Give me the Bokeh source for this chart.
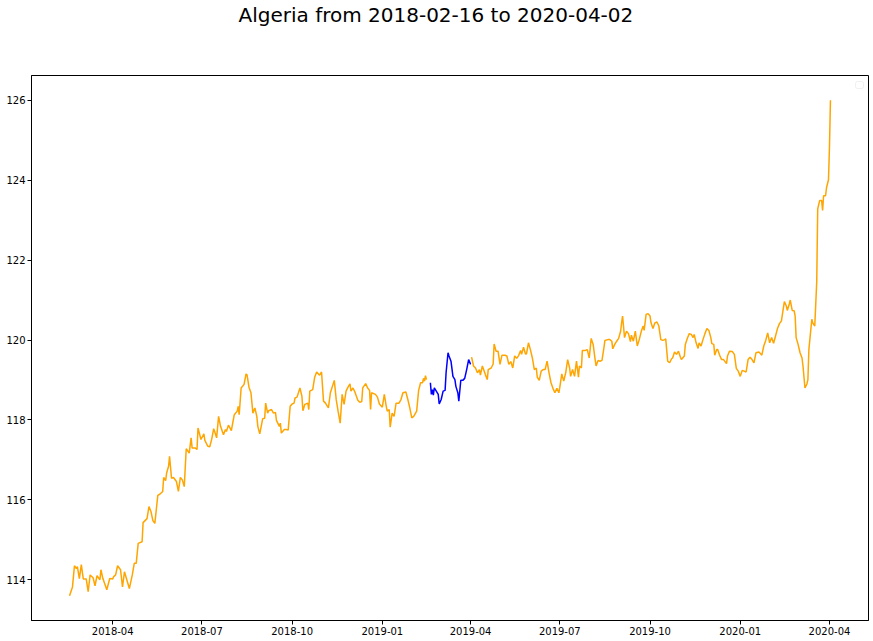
import pandas as pd
from bokeh.plotting import figure
from bokeh.models import Range1d, FixedTicker, DatetimeTickFormatter, BoxAnnotation, Title
from bokeh.embed import file_html
from bokeh.resources import INLINE

country = "Algeria"
start_date = "2018-02-16"
end_date = "2020-04-02"

before_days = [0, 3, 5, 7, 8, 10, 12, 14, 17, 19,
               21, 24, 26, 28, 31, 32, 34, 38, 41, 44,
               45, 47, 49, 52, 54, 56, 61, 64, 66, 68,
               70, 74, 75, 79, 81, 83, 85, 87, 90, 92,
               95, 96, 98, 99, 101, 102, 104, 106, 109, 111,
               113, 115, 117, 119, 122, 124, 125, 128, 130, 131,
               134, 137, 138, 141, 143, 145, 147, 148, 150, 152,
               154, 157, 159, 160, 162, 164, 165, 168, 171, 172,
               173, 175, 178, 180, 181, 183, 185, 187, 189, 191,
               192, 194, 197, 199, 200, 202, 203, 206, 208, 210,
               211, 214, 215, 216, 219, 221, 223, 225, 227, 229,
               230, 232, 235, 237, 238, 240, 243, 244, 245, 248,
               250, 252, 255, 257, 259, 261, 264, 266, 270, 272,
               274, 276, 278, 280, 282, 284, 286, 287, 289, 291,
               294, 296, 298, 299, 302, 304, 306, 307, 308, 312,
               314, 316, 319, 321, 323, 324, 326, 327, 329, 331,
               333, 336, 338, 340, 343, 345, 347, 349, 351, 354,
               356, 358, 360, 361, 362, 363, 364]
before_vals = [113.60, 113.82, 114.35, 114.28, 114.33, 114.03, 114.38, 114.02, 114.02, 113.70,
               114.12, 114.05, 113.85, 114.10, 114.00, 114.25, 114.03, 113.75, 114.03, 114.02,
               114.08, 114.12, 114.35, 114.25, 113.82, 114.20, 113.78, 114.12, 114.41, 114.41,
               114.91, 114.95, 115.43, 115.53, 115.83, 115.71, 115.48, 115.41, 116.11, 116.14,
               116.21, 116.56, 116.48, 116.67, 116.84, 117.09, 116.54, 116.56, 116.46, 116.21,
               116.56, 116.50, 116.33, 117.28, 117.17, 117.55, 117.30, 117.30, 117.26, 117.80,
               117.51, 117.65, 117.49, 117.34, 117.33, 117.52, 117.78, 117.71, 117.55, 118.09,
               117.84, 117.63, 117.76, 117.71, 117.87, 117.78, 117.73, 118.13, 118.22, 118.34,
               118.13, 118.80, 118.89, 119.15, 119.13, 118.82, 118.68, 118.17, 118.30, 118.09,
               117.84, 117.65, 118.03, 118.04, 118.42, 118.17, 118.23, 118.26, 118.17, 118.19,
               117.99, 117.84, 117.92, 117.67, 117.76, 117.76, 117.75, 118.34, 118.40, 118.42,
               118.55, 118.57, 118.80, 118.59, 118.23, 118.39, 118.42, 118.26, 118.72, 118.76,
               119.07, 119.20, 119.12, 119.20, 118.47, 118.42, 118.30, 118.68, 118.99, 118.50,
               118.20, 117.92, 118.64, 118.39, 118.72, 118.82, 118.90, 118.72, 118.80, 118.70,
               118.49, 118.44, 118.46, 118.80, 118.91, 118.80, 118.74, 118.26, 118.68, 118.64,
               118.57, 118.40, 118.32, 118.64, 118.34, 118.22, 118.26, 117.82, 118.17, 118.09,
               118.42, 118.42, 118.51, 118.68, 118.70, 118.51, 118.30, 118.05, 118.09, 118.22,
               118.74, 118.93, 118.93, 119.04, 118.97, 119.11, 119.01]

window_days = [368, 369, 370, 371, 372, 374, 376, 377, 379, 381,
               383, 384, 386, 387, 389, 391, 393, 394, 396, 397,
               399, 401, 403, 405, 407, 409]
window_vals = [118.93, 118.64, 118.76, 118.62, 118.80, 118.72, 118.64, 118.40, 118.51, 118.72,
               118.74, 119.18, 119.68, 119.60, 119.47, 119.09, 119.01, 118.84, 118.68, 118.47,
               118.99, 118.99, 119.04, 119.26, 119.51, 119.39]

after_days = [410, 412, 414, 416, 418, 419, 421, 424, 426, 427,
              430, 432, 433, 435, 437, 439, 441, 444, 446, 448,
              450, 452, 454, 456, 458, 460, 461, 463, 465, 466,
              468, 470, 472, 474, 476, 477, 479, 481, 483, 485,
              487, 489, 491, 493, 495, 497, 499, 500, 502, 504,
              506, 508, 510, 511, 513, 515, 517, 519, 520, 522,
              523, 526, 528, 530, 532, 534, 536, 537, 539, 541,
              543, 545, 546, 549, 551, 553, 554, 556, 558, 560,
              562, 563, 564, 566, 568, 570, 572, 573, 575, 577,
              579, 581, 583, 585, 586, 588, 590, 592, 593, 595,
              597, 599, 601, 603, 605, 607, 608, 610, 612, 614,
              615, 617, 619, 621, 623, 624, 627, 628, 630, 632,
              634, 636, 637, 639, 641, 642, 644, 646, 648, 650,
              652, 654, 655, 657, 658, 660, 661, 663, 665, 667,
              670, 671, 673, 676, 678, 680, 682, 684, 686, 688,
              690, 692, 694, 696, 698, 700, 703, 705, 706, 708,
              710, 712, 714, 716, 718, 720, 722, 724, 726, 727,
              729, 731, 732, 734, 735, 737, 739, 740, 741, 743,
              745, 747, 748, 750, 752, 753, 754, 757, 758, 760,
              762, 763, 765, 767, 768, 769, 771, 772, 774, 775, 776]
after_vals = [119.57, 119.35, 119.30, 119.18, 119.26, 119.12, 119.35, 119.14, 119.01, 119.26,
              119.30, 119.40, 119.90, 119.72, 119.72, 119.39, 119.62, 119.62, 119.60, 119.39,
              119.46, 119.30, 119.60, 119.54, 119.61, 119.74, 119.64, 119.82, 119.65, 119.65,
              119.93, 119.76, 119.55, 119.26, 119.30, 119.07, 118.99, 119.22, 119.26, 119.26,
              119.47, 119.18, 118.93, 118.79, 118.68, 118.79, 118.68, 118.82, 119.15, 118.97,
              119.18, 119.51, 119.30, 119.09, 119.26, 119.09, 119.47, 119.07, 119.35, 119.30,
              119.74, 119.74, 119.76, 119.55, 120.04, 119.89, 119.51, 119.35, 119.49, 119.47,
              119.49, 119.81, 119.99, 120.01, 120.01, 119.97, 119.78, 119.89, 119.97, 120.04,
              120.22, 120.43, 120.60, 120.06, 120.22, 120.16, 119.96, 120.12, 119.97, 120.22,
              119.85, 120.01, 120.21, 120.35, 120.24, 120.64, 120.66, 120.60, 120.43, 120.29,
              120.43, 120.45, 120.35, 120.01, 119.99, 120.01, 120.03, 119.47, 119.43, 119.53,
              119.55, 119.70, 119.64, 119.72, 119.57, 119.51, 119.60, 119.89, 120.04, 120.16,
              120.14, 120.06, 120.14, 119.93, 119.79, 119.93, 119.85, 120.01, 120.16, 120.29,
              120.24, 120.06, 119.91, 119.89, 119.62, 119.76, 119.76, 119.62, 119.51, 119.51,
              119.41, 119.60, 119.72, 119.71, 119.64, 119.29, 119.22, 119.09, 119.24, 119.22,
              119.20, 119.51, 119.57, 119.51, 119.43, 119.68, 119.70, 119.65, 119.62, 119.85,
              119.99, 120.18, 119.93, 120.06, 119.92, 120.10, 120.29, 120.41, 120.48, 120.64,
              120.96, 120.85, 120.74, 120.90, 121.00, 120.74, 120.73, 120.60, 120.06, 119.89,
              119.68, 119.55, 119.35, 118.80, 118.90, 119.01, 119.76, 120.52, 120.43, 120.35,
              121.45, 123.28, 123.49, 123.49, 123.24, 123.61, 123.61, 123.81, 124.01, 124.83, 126.00]

x_tick_labels = ["2018-04", "2018-07", "2018-10", "2019-01", "2019-04",
                 "2019-07", "2019-10", "2020-01", "2020-04"]
y_ticks = [114, 116, 118, 120, 122, 124, 126]

t0 = pd.Timestamp(start_date)


def to_dates(days):
    return [t0 + pd.Timedelta(days=d) for d in days]


def ms(t):
    return t.value / 1e6


all_vals = before_vals + window_vals + after_vals
x_first = t0
x_last = pd.Timestamp(end_date)
span = x_last - x_first
x_lo, x_hi = ms(x_first - span * 0.05), ms(x_last + span * 0.05)
y_lo, y_hi = min(all_vals), max(all_vals)
y_pad = (y_hi - y_lo) * 0.05
y_lo, y_hi = y_lo - y_pad, y_hi + y_pad

W, H = 873, 641
BL, BR, BT, BB = 31, 5, 75, 21   # frame margins
p = figure(width=W, height=H, x_axis_type="datetime",
           output_backend="svg", toolbar_location=None,
           x_range=Range1d(x_lo, x_hi), y_range=Range1d(y_lo, y_hi),
           min_border_left=BL, min_border_right=BR,
           min_border_top=0, min_border_bottom=BB)

# spacer between the title and the frame
p.add_layout(Title(text=" ", text_font_size="10px", standoff=36), "above")

p.title.text = f"{country} from {start_date} to {end_date}"
p.title.text_font = "DejaVu Sans"
p.title.text_font_size = "20px"
p.title.text_font_style = "normal"
p.title.text_color = "black"
p.title.align = "left"
p.title.offset = 207
p.title.standoff = 0

p.xgrid.visible = False
p.ygrid.visible = False
p.outline_line_color = "black"
p.outline_line_alpha = 1.0
p.outline_line_width = 1
p.background_fill_color = "white"
p.border_fill_color = "white"

for ax in (p.xaxis[0], p.yaxis[0]):
    ax.axis_line_color = "black"
    ax.major_tick_line_color = "black"
    ax.major_tick_out = 4
    ax.major_tick_in = 0
    ax.minor_tick_line_color = None
    ax.major_label_text_font = "DejaVu Sans"
    ax.major_label_text_font_size = "10px"
    ax.major_label_text_color = "black"
    ax.major_label_standoff = 2

p.xaxis.ticker = FixedTicker(ticks=[ms(pd.Timestamp(s + "-01")) for s in x_tick_labels])
fmt = "%Y-%m"
p.xaxis.formatter = DatetimeTickFormatter(
    milliseconds=fmt, seconds=fmt, minsec=fmt, minutes=fmt, hourmin=fmt,
    hours=fmt, days=fmt, months=fmt, years=fmt)
p.yaxis.ticker = FixedTicker(ticks=y_ticks)

p.line(to_dates(before_days), before_vals, line_color="orange", line_width=1.5)
p.line(to_dates(window_days), window_vals, line_color="blue", line_width=1.5)
p.line(to_dates(after_days), after_vals, line_color="orange", line_width=1.5)

# empty legend frame (top right corner of the axes), as in the original
fw, fh = W - BL - BR, H - BT - BB
px_x = (x_hi - x_lo) / fw
px_y = (y_hi - y_lo) / fh
p.add_layout(BoxAnnotation(left=x_hi - 13 * px_x, right=x_hi - 5 * px_x,
                           bottom=y_hi - 13 * px_y, top=y_hi - 6 * px_y,
                           fill_color="white", fill_alpha=0.8,
                           line_color="#cccccc", line_width=1, border_radius=2))

open("out.html", "w").write(file_html(p, INLINE))
